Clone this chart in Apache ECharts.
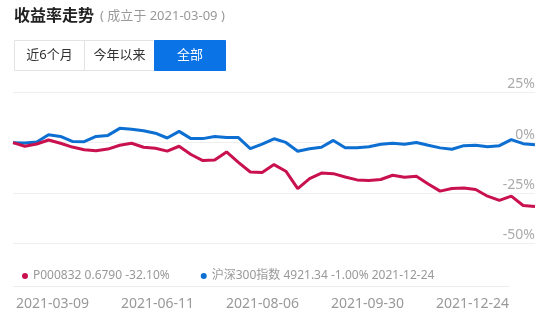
<!DOCTYPE html>
<html>
<head>
<meta charset="utf-8">
<script src="https://cdn.jsdelivr.net/npm/echarts@6/dist/echarts.min.js"></script>
<style>
html,body{margin:0;padding:0;background:#fff;}
#chart{width:550px;height:326px;}
</style>
</head>
<body>
<div id="chart"></div>
<script>
var seriesNames = ['P000832', '沪深300指数'];
var legendDetails = ['0.6790 -32.10%', '4921.34 -1.00% 2021-12-24'];
var fundValues = [0, -1.8, -0.7, 1.3, -0.3, -2.2, -3.5, -4.0, -3.2, -1.3, -0.3, -2.3, -2.8, -4.2, -1.8,
  -5.9, -8.9, -8.6, -4.6, -9.8, -14.6, -14.8, -10.9, -14.2, -22.8, -17.9, -15.1, -15.4, -17.1, -18.5,
  -18.8, -18.3, -16.2, -17.2, -16.7, -20.5, -24.1, -22.8, -22.5, -23.3, -26.6, -28.7, -26.6, -31.2, -31.7];
var indexValues = [0, -0.2, 0.3, 3.9, 3.1, 0.6, 0.5, 3.1, 3.6, 7.1, 6.6, 5.9, 4.7, 2.3, 5.6,
  2.0, 2.0, 3.0, 2.5, 2.5, -3.0, -0.7, 1.9, 0.1, -4.3, -3.0, -2.3, 1.1, -2.5, -2.5,
  -2.0, -0.8, -0.3, -0.8, 0.1, -1.3, -2.6, -3.3, -1.5, -1.3, -2.0, -1.5, 1.5, -0.5, -1.0];
var dateLabels = ['2021-03-09', '2021-06-11', '2021-08-06', '2021-09-30', '2021-12-24'];
var yTicks = [-50, -25, 0, 25];
var buttonLabels = ['近6个月', '今年以来', '全部'];
var titleText = '收益率走势';
var subtitleText = '( 成立于 2021-03-09 )';

var FONT = "'Noto Sans', 'Noto Sans CJK SC', sans-serif";
var RED = '#c9114f';
var BLUE = '#0c6fd1';
var BTN_BLUE = '#0a74e6';

var categories = fundValues.map(function (v, i) { return i; });

var chart = echarts.init(document.getElementById('chart'), null, {renderer: 'canvas'});

var btnX = [14.5, 84.5, 154.5];
var btnW = [70, 70, 71];
var graphics = [
  {type: 'text', left: 14, top: 8, style: {text: titleText, fontSize: 16, fontWeight: 'bold', fill: '#222', fontFamily: FONT}},
  {type: 'text', left: 100, top: 10, style: {text: subtitleText, fontSize: 13, fill: '#999', fontFamily: FONT}},
  {type: 'line', shape: {x1: 13, y1: 286.5, x2: 509, y2: 286.5}, style: {stroke: '#ececec', lineWidth: 1}}
];
buttonLabels.forEach(function (t, i) {
  var active = i === buttonLabels.length - 1;
  graphics.push({type: 'rect', shape: {x: btnX[i], y: 40.5, width: btnW[i], height: 30},
    style: {fill: active ? BTN_BLUE : '#fff', stroke: active ? BTN_BLUE : '#e3e3e3', lineWidth: 1}});
  graphics.push({type: 'text', x: btnX[i] + btnW[i] / 2, y: 55.5,
    style: {text: t, fontSize: 13, fill: active ? '#fff' : '#333', align: 'center', verticalAlign: 'middle', fontFamily: FONT}});
});

chart.setOption({
  animation: false,
  backgroundColor: '#fff',
  textStyle: {fontFamily: FONT},
  graphic: graphics,
  legend: {
    left: 17, top: 265,
    icon: 'circle', itemWidth: 6, itemHeight: 6, itemGap: 31,
    textStyle: {fontSize: 12, color: '#999', fontFamily: FONT},
    data: seriesNames,
    formatter: function (name) { return name + ' ' + legendDetails[seriesNames.indexOf(name)]; },
    selectedMode: false
  },
  grid: [
    {left: 13, right: 15, top: 92.3, bottom: 82.7},
    {left: 0, width: 525, top: 288, height: 1}
  ],
  xAxis: [
    {type: 'category', gridIndex: 0, data: categories, boundaryGap: false,
      axisLine: {show: false}, axisTick: {show: false}, axisLabel: {show: false}, splitLine: {show: false}},
    {type: 'category', gridIndex: 1, data: dateLabels, boundaryGap: true,
      axisLine: {show: false}, axisTick: {show: false},
      axisLabel: {margin: 8, fontSize: 14, color: '#999', fontFamily: FONT, interval: 0}}
  ],
  yAxis: [
    {type: 'value', gridIndex: 0, position: 'right', min: yTicks[0], max: yTicks[yTicks.length - 1], interval: 25,
      axisLine: {show: false}, axisTick: {show: false},
      axisLabel: {inside: true, margin: 0, formatter: '{value}%', fontSize: 14, color: '#aaa',
        verticalAlign: 'bottom', padding: [0, 0, 1, 0], fontFamily: FONT},
      splitLine: {lineStyle: {color: '#efefef', width: 1}}},
    {type: 'value', gridIndex: 1, show: false}
  ],
  series: [
    {name: seriesNames[0], type: 'line', data: fundValues, xAxisIndex: 0, yAxisIndex: 0,
      showSymbol: false, symbol: 'none', itemStyle: {color: RED}, lineStyle: {color: RED, width: 3}, z: 3},
    {name: seriesNames[1], type: 'line', data: indexValues, xAxisIndex: 0, yAxisIndex: 0,
      showSymbol: false, symbol: 'none', itemStyle: {color: BLUE}, lineStyle: {color: BLUE, width: 3}, z: 2}
  ]
});
</script>
</body>
</html>
